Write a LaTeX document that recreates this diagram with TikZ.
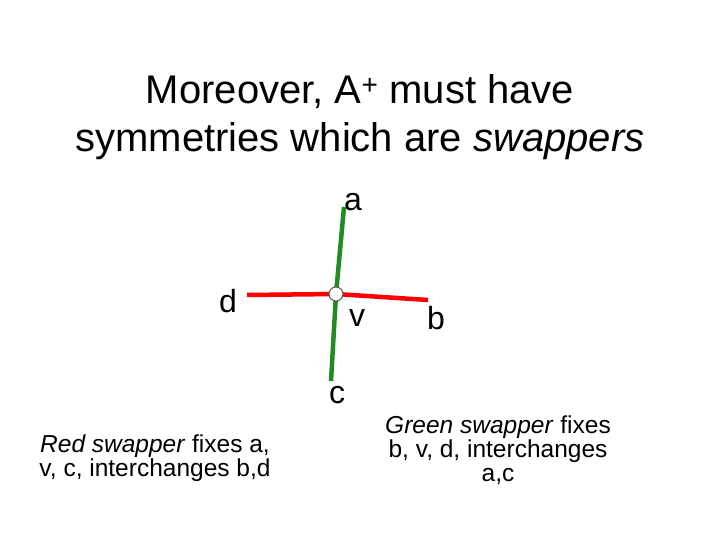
\documentclass[tikz,border=0pt]{standalone}
\usepackage{fontspec}
\setmainfont{Liberation Sans}
\begin{document}
\begin{tikzpicture}[x=1pt,y=-1pt,
  lbl/.style={font=\fontsize{32}{36}\selectfont},
  note/.style={font=\fontsize{24.5}{24}\selectfont,align=center},
  gl/.style={draw={rgb,255:red,34;green,139;blue,34},line width=4.5pt},
  rl/.style={draw=red,line width=4.5pt}]
\useasboundingbox (0,0) rectangle (720,540);
\node[font=\fontsize{40}{48}\selectfont,align=center] (t) at (360,117) {Moreover, A\textsuperscript{+} must have\\symmetries which are \textit{swappers}};
\coordinate (top) at (344,207);
\coordinate (bot) at (331,381);
\coordinate (left) at (247,295);
\coordinate (right) at (428,300);
\coordinate (v) at (336,294);
\draw[gl] (top) -- (v) -- (bot);
\draw[rl] (left) -- (v) -- (right);
\node[draw=gray!70!black,fill=white,circle,inner sep=0pt,minimum size=14pt,line width=1pt] (vc) at (v) {};
\node[lbl] (a) at (353,202) {a};
\node[lbl] (d) at (228,301) {d};
\node[lbl] (vl) at (357,318) {v};
\node[lbl] (b) at (436,318) {b};
\node[lbl] (c) at (337,395) {c};
\node[note] (rn) at (155,458) {\textit{Red swapper} fixes a,\\v, c, interchanges b,d};
\node[note] (gn) at (498,450) {\textit{Green swapper} fixes\\b, v, d, interchanges\\a,c};
\end{tikzpicture}
\end{document}
